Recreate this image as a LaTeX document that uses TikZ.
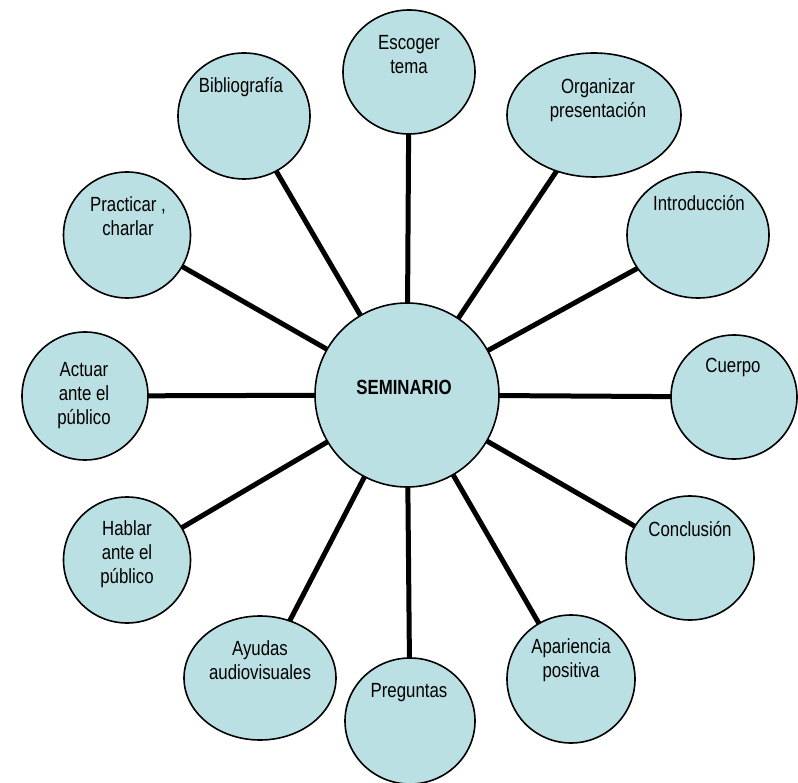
\documentclass[tikz,border=0pt]{standalone}
\usepackage{fontspec}
\setmainfont{Liberation Sans}[FakeStretch=0.82]
\usepackage{xcolor}
\usetikzlibrary{shapes.geometric,backgrounds}
\definecolor{bubblefill}{RGB}{187,224,227}

\begin{document}
\begin{tikzpicture}[x=1pt,y=-1pt]
\tikzset{bubble/.style={ellipse,draw=black,fill=bubblefill,line width=1.6pt,inner sep=0pt}}
\tikzset{bubble text/.style={align=center,inner sep=0pt,font=\fontsize{20.5}{24}\selectfont}}
\tikzset{spoke/.style={line width=5pt}}

\useasboundingbox (0,0) rectangle (798,783);

% hub
\node[bubble,minimum width=184pt,minimum height=184pt] (sem) at (407,395) {};
\node[bubble text,font=\fontsize{20.5}{24}\selectfont\bfseries] (semtxt) at (404,387) {SEMINARIO};

% ring, clockwise from the top
\node[bubble,minimum width=132pt,minimum height=124pt] (tema) at (409,72) {};
\node[bubble text] (tematxt) at (409,55) {Escoger\\tema};
\node[bubble,minimum width=174pt,minimum height=124pt] (org) at (594,115) {};
\node[bubble text] (orgtxt) at (598,100) {Organizar\\presentación};
\node[bubble,minimum width=142pt,minimum height=126pt] (intro) at (698,235) {};
\node[bubble text] (introtxt) at (699,203) {Introducción};
\node[bubble,minimum width=126pt,minimum height=124pt] (cuerpo) at (734,397) {};
\node[bubble text] (cuerpotxt) at (733,367) {Cuerpo};
\node[bubble,minimum width=128pt,minimum height=124pt] (concl) at (690,558) {};
\node[bubble text] (concltxt) at (690,529) {Conclusión};
\node[bubble,minimum width=128pt,minimum height=128pt] (apar) at (571,679) {};
\node[bubble text] (apartxt) at (571,660) {Apariencia\\positiva};
\node[bubble,minimum width=130pt,minimum height=126pt] (preg) at (410,721) {};
\node[bubble text] (pregtxt) at (409,693) {Preguntas};
\node[bubble,minimum width=152pt,minimum height=124pt] (ayudas) at (260,678) {};
\node[bubble text] (ayudastxt) at (260,660) {Ayudas\\audiovisuales};
\node[bubble,minimum width=127pt,minimum height=126pt] (hablar) at (127,560) {};
\node[bubble text] (hablartxt) at (127,554) {Hablar\\ante el\\público};
\node[bubble,minimum width=126pt,minimum height=128pt] (actuar) at (85,396) {};
\node[bubble text] (actuartxt) at (84,396) {Actuar\\ante el\\público};
\node[bubble,minimum width=127pt,minimum height=126pt] (prac) at (127,235) {};
\node[bubble text] (practxt) at (128,216) {Practicar ,\\charlar};
\node[bubble,minimum width=132pt,minimum height=126pt] (biblio) at (244,116) {};
\node[bubble text] (bibliotxt) at (241,87) {Bibliografía};

\begin{pgfonlayer}{background}
\foreach \n in {tema,org,intro,cuerpo,concl,apar,preg,ayudas,hablar,actuar,prac,biblio}
  \draw[spoke] (sem.center) -- (\n.center);
\end{pgfonlayer}

\end{tikzpicture}
\end{document}
